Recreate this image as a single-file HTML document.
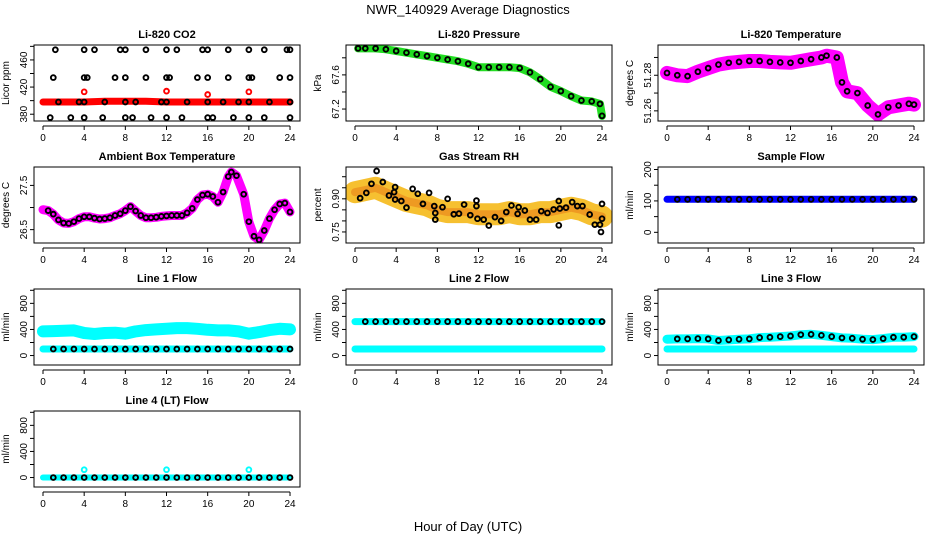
<!DOCTYPE html>
<html><head><meta charset="utf-8"><style>
body{margin:0;background:#fff;}
svg{display:block;font-family:"Liberation Sans",sans-serif;}
</style></head><body>
<svg id="fig" width="936" height="540" viewBox="0 0 936 540">
<rect x="0" y="0" width="936" height="540" fill="#fff"/>
<text x="468" y="14" text-anchor="middle" font-size="13">NWR_140929  Average Diagnostics</text>
<text x="468" y="531" text-anchor="middle" font-size="13">Hour of Day (UTC)</text>
</svg>
<script>
// ---------- data ----------
const xTicks = [0,4,8,12,16,20,24];
// CO2
const co2BandHours = [0,2,4,6,8,10,12,14,16,18,20,22,24];
const co2BandVals = [398,398,398,399,399,399,398,398,398,398,398,398,398];
const co2RedOutHours = [4,12,16,20];
const co2RedOutVals = [413,414,409,413];
const co2BlkHours = [1.2,4,5,7.5,8,10,12,13,15.5,16,18,20,21.5,23.7,24, 1,4,4.3,7,8,10,12,12.3,15,16,18,20,20.3,23,24, 1.5,3.5,4,6,8,9,11.5,12,14,16,17.5,19,20,22,24, 0.7,2.7,4,5.8,8,8.7,10.5,12,13.5,16,16.5,18.5,20,21.5,24];
const co2BlkVals = [475,475,475,475,475,475,475,475,475,475,475,475,475,475,475, 434,434,434,434,434,434,434,434,434,434,434,434,434,434,434, 398,398,398,398,398,398,398,398,398,398,398,398,398,398,398, 375,375,375,375,375,375,375,375,375,375,375,375,375,375,375];
// Pressure
const presHours = [0.3,1,2,3,4,5,6,7,8,9,10,11,12,13,14,15,16,17,18,19,20,21,22,23,23.8,24];
const presVals = [67.91,67.91,67.91,67.90,67.88,67.86,67.84,67.82,67.80,67.78,67.76,67.73,67.69,67.69,67.69,67.69,67.68,67.63,67.55,67.46,67.41,67.35,67.30,67.29,67.26,67.12];
// Li-820 temperature
const tempHours = [0,1,2,3,4,5,6,7,8,9,10,11,12,13,14,15,15.5,16.5,17,17.5,18.5,19.5,20.5,21.5,22.5,23.5,24];
const tempVals = [51.2813,51.2800,51.2795,51.2820,51.2840,51.2860,51.2870,51.2875,51.2880,51.2880,51.2875,51.2872,51.2870,51.2880,51.2890,51.2900,51.2910,51.2900,51.2760,51.2710,51.2700,51.2630,51.2580,51.2620,51.2630,51.2640,51.2635];
// Ambient box temperature
const ambHours = [0,0.5,1,1.5,2,2.5,3,3.5,4,4.5,5,5.5,6,6.5,7,7.5,8,8.5,9,9.5,10,10.5,11,11.5,12,12.5,13,13.5,14,14.5,15,15.5,16,16.5,17,17.5,18,18.3,18.8,19.5,20,20.5,21,21.5,22,22.5,23,23.5,24];
const ambVals = [26.95,26.93,26.85,26.72,26.65,26.64,26.68,26.75,26.79,26.79,26.76,26.74,26.75,26.77,26.82,26.86,26.93,27.02,26.92,26.82,26.77,26.77,26.78,26.80,26.81,26.82,26.82,26.82,26.88,26.98,27.18,27.28,27.30,27.25,27.12,27.35,27.70,27.80,27.72,27.30,26.68,26.35,26.27,26.48,26.75,26.95,27.08,27.10,26.90];
// Gas stream RH
const rhBandHours = [0,1,2,3,4,5,6,7,8,9,10,11,12,13,14,15,16,17,18,19,20,21,22,23,24];
const rhBandVals = [0.93,0.94,0.95,0.93,0.91,0.89,0.88,0.87,0.85,0.84,0.84,0.84,0.83,0.83,0.83,0.84,0.83,0.83,0.84,0.84,0.85,0.86,0.85,0.83,0.82];
const rhBlkHours = [0.5,1.1,1.6,2.1,2.7,3.3,3.8,3.9,3.9,4.5,5,5.6,6.1,6.6,7.2,7.7,7.8,7.8,8.5,9,9.6,10.1,10.6,11.2,11.8,11.8,11.9,12.5,13,13.6,14.2,14.7,15.2,15.8,15.9,16.5,17,17.6,18.1,18.7,19.3,19.8,19.8,19.9,20.5,21.1,21.6,22.1,22.8,23.3,23.8,23.9,24,24];
const rhBlkVals = [0.903,0.927,0.968,1.026,0.976,0.915,0.93,0.953,0.897,0.89,0.86,0.945,0.923,0.877,0.927,0.867,0.806,0.836,0.862,0.9,0.83,0.833,0.874,0.826,0.867,0.892,0.81,0.806,0.779,0.817,0.8,0.84,0.87,0.832,0.862,0.847,0.806,0.806,0.844,0.836,0.852,0.89,0.78,0.856,0.86,0.885,0.867,0.867,0.829,0.783,0.783,0.75,0.877,0.81];
// Flows (hourly)
const flowHours = [0,1,2,3,4,5,6,7,8,9,10,11,12,13,14,15,16,17,18,19,20,21,22,23,24];
const sampleVals = [105,105,105,105,105,105,105,105,105,105,105,105,105,105,105,105,105,105,105,105,105,105,105,105,105];
const line1Upper = [370,375,380,385,345,330,345,350,335,370,390,400,410,420,420,410,395,385,385,370,335,360,390,410,400];
const line1Lower = [100,100,100,100,100,100,100,100,100,100,100,100,100,100,100,100,100,100,100,100,100,100,100,100,100];
const line2Upper = [520,520,520,520,520,520,520,520,520,520,520,520,520,520,520,520,520,520,520,520,520,520,520,520,520];
const line2Lower = [100,100,100,100,100,100,100,100,100,100,100,100,100,100,100,100,100,100,100,100,100,100,100,100,100];
const line3Upper = [250,255,255,260,255,230,240,250,255,275,280,290,300,320,325,310,290,270,265,250,245,260,280,280,290];
const line3Lower = [100,100,100,100,100,100,100,100,100,100,100,100,100,100,100,100,100,100,100,100,100,100,100,100,100];
const line4Vals = [0,0,0,0,0,0,0,0,0,0,0,0,0,0,0,0,0,0,0,0,0,0,0,0,0];
const line4OutHours = [4,12,20];
const line4OutVals = [120,120,120];
// y ticks
const co2Ticks = [380,400,420,440,460,480]; const co2Labels = ["380","","420","","460",""];
const presTicks = [67.2,67.4,67.6,67.8]; const presLabels = ["67.2","","67.6",""];
const tempTicks = [51.26,51.27,51.28,51.29]; const tempLabels = ["51.26","","51.28",""];
const ambTicks = [26.5,27.0,27.5]; const ambLabels = ["26.5","","27.5"];
const rhTicks = [0.75,0.80,0.85,0.90,0.95,1.00]; const rhLabels = ["0.75","","","0.90","",""];
const sampTicks = [0,50,100,150,200]; const sampLabels = ["0","","100","","200"];
const flowTicks = [0,200,400,600,800,1000]; const flowLabels = ["0","","400","","800",""];

// ---------- drawing ----------
const NS = "http://www.w3.org/2000/svg";
const svg = document.getElementById("fig");
const colX = [34,346,658], rowY = [45,167,289,411], W = 266, Hh = 76;
const XMIN = -0.875, XMAX = 24.97;
function mk(tag, attrs, parent){ const e = document.createElementNS(NS, tag); for (const k in attrs) e.setAttribute(k, attrs[k]); parent.appendChild(e); return e; }

function panel(col,row,title,ytitle,ymin,ymax,ticks,labels,key){
  const x0 = colX[col], y0 = rowY[row];
  const g = mk("g",{},svg);
  
  
  const sx = h => x0 + (h - XMIN) / (XMAX - XMIN) * W;
  const sy = v => y0 + Hh - (v - ymin) / (ymax - ymin) * Hh;
  const t = mk("text",{x:x0+W/2,y:y0-7,"text-anchor":"middle","font-size":"11","font-weight":"bold"},g);
  t.textContent = title;
  
  
  const yt = mk("text",{x:0,y:0,"text-anchor":"middle","font-size":"10",transform:`translate(${x0-25},${y0+Hh/2}) rotate(-90)`},g);
  yt.textContent = ytitle;
  
  
  const clip = mk("clipPath",{id:"c"+key},g);
  mk("rect",{x:x0,y:y0,width:W,height:Hh},clip);
  const plot = mk("g",{"clip-path":`url(#c${key})`},g);
  
  
  const box = mk("rect",{x:x0,y:y0,width:W,height:Hh,fill:"none",stroke:"#000","stroke-width":"1"},g);
  
  
  const ax = mk("g",{},g);
  
  
  const ya = y0 + Hh + 5;
  mk("line",{x1:sx(0),x2:sx(24),y1:ya,y2:ya,stroke:"#000"},ax);
  xTicks.forEach(v=>{
    mk("line",{x1:sx(v),x2:sx(v),y1:ya,y2:ya+4,stroke:"#000"},ax);
    const l = mk("text",{x:sx(v),y:ya+15,"text-anchor":"middle","font-size":"10"},ax);
    l.textContent = v;
    
    
  });
  const ay = mk("g",{},g);
  
  
  ticks.forEach((v,i)=>{
    const yy = sy(v);
    mk("line",{x1:x0-4,x2:x0,y1:yy,y2:yy,stroke:"#000"},ay);
    if (labels[i]) {
      const l = mk("text",{x:0,y:0,"text-anchor":"middle","font-size":"10",transform:`translate(${x0-7},${yy}) rotate(-90)`},ay);
      l.textContent = labels[i];
      
      
    }
  });
  return {plot,sx,sy};
}
function band(p,hours,vals,color,w,name){
  const pts = hours.map((h,i)=>p.sx(h).toFixed(1)+","+p.sy(vals[i]).toFixed(1)).join(" ");
  const e = mk("polyline",{points:pts,fill:"none",stroke:color,"stroke-width":w,"stroke-linejoin":"round","stroke-linecap":"round"},p.plot);
  
  
}
function circles(p,hours,vals,color,name,sw,r){
  hours.forEach((h,i)=>{
    const c = mk("circle",{cx:p.sx(h),cy:p.sy(vals[i]),r:r||2.4,fill:"none",stroke:color,"stroke-width":sw||1.9},p.plot);
    
    
  });
}

// CO2
let p = panel(0,0,"Li-820 CO2","Licor ppm",370,482,co2Ticks,co2Labels,"co2");
band(p,co2BandHours,co2BandVals,"#ff0000",7,"co2-red-band");
circles(p,co2RedOutHours,co2RedOutVals,"#ff0000","co2-red-point");
circles(p,co2BlkHours,co2BlkVals,"#000","co2-black-point");
// Pressure
p = panel(1,0,"Li-820 Pressure","kPa",67.06,67.95,presTicks,presLabels,"pressure");
band(p,presHours,presVals,"#22dd22",8,"pressure-green-band");
circles(p,presHours,presVals,"#000","pressure-black-point");
// Temperature
p = panel(2,0,"Li-820 Temperature","degrees C",51.2543,51.297,tempTicks,tempLabels,"li820-temp");
band(p,tempHours,tempVals,"#ff00ff",14,"temp-magenta-band");
circles(p,tempHours,tempVals,"#000","temp-black-point");
// Ambient
p = panel(0,1,"Ambient Box Temperature","degrees C",26.198,27.916,ambTicks,ambLabels,"ambient");
band(p,ambHours,ambVals,"#ff00ff",9,"ambient-magenta-band");
circles(p,ambHours.slice(1),ambVals.slice(1),"#000","ambient-black-point");
// RH
p = panel(1,1,"Gas Stream RH","percent",0.70,1.044,rhTicks,rhLabels,"rh");
band(p,rhBandHours,rhBandVals,"#f6c030",22,"rh-orange-band");
band(p,rhBandHours,rhBandVals,"#ee9a22",8,"rh-red-speckle");
circles(p,rhBlkHours,rhBlkVals,"#000","rh-black-point");
// Sample flow
p = panel(2,1,"Sample Flow","ml/min",-34,208,sampTicks,sampLabels,"sample-flow");
band(p,flowHours,sampleVals,"#0000ff",7,"sample-blue-band");
circles(p,flowHours.slice(1),sampleVals.slice(1),"#000","sample-black-point");
// Line 1
p = panel(0,2,"Line 1 Flow","ml/min",-145,1020,flowTicks,flowLabels,"line1");
band(p,flowHours,line1Upper,"#00ffff",12,"line1-upper-band");
band(p,flowHours,line1Lower,"#00ffff",7,"line1-lower-band");
circles(p,flowHours.slice(1),line1Lower.slice(1),"#000","line1-black-point");
// Line 2
p = panel(1,2,"Line 2 Flow","ml/min",-145,1020,flowTicks,flowLabels,"line2");
band(p,flowHours,line2Upper,"#00ffff",7,"line2-upper-band");
band(p,flowHours,line2Lower,"#00ffff",7,"line2-lower-band");
circles(p,flowHours.slice(1),line2Upper.slice(1),"#000","line2-black-point");
// Line 3
p = panel(2,2,"Line 3 Flow","ml/min",-145,1020,flowTicks,flowLabels,"line3");
band(p,flowHours,line3Upper,"#00ffff",9,"line3-upper-band");
band(p,flowHours,line3Lower,"#00ffff",7,"line3-lower-band");
circles(p,flowHours.slice(1),line3Upper.slice(1),"#000","line3-black-point");
// Line 4
p = panel(0,3,"Line 4 (LT) Flow","ml/min",-145,1020,flowTicks,flowLabels,"line4");
band(p,flowHours,line4Vals,"#00ffff",6,"line4-band");
circles(p,line4OutHours,line4OutVals,"#00ffff","line4-cyan-point");
circles(p,flowHours.slice(1),line4Vals.slice(1),"#000","line4-black-point");
</script>
</body></html>
